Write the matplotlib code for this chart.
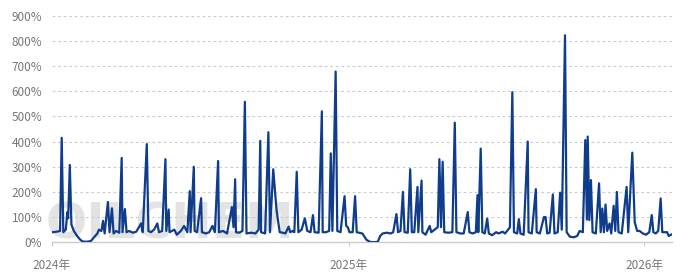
import numpy as np
import matplotlib
matplotlib.use("Agg")
import matplotlib.pyplot as plt

plt.rcParams['font.family'] = ['Noto Sans CJK SC', 'DejaVu Sans']

start_date = np.datetime64('2024-01-01')

# days after 2024-01-01 and the value (%)
day_offsets = [
    0, 6, 10, 12, 14, 17, 19, 20, 22, 24, 27, 31, 35, 38, 43, 48, 52, 56, 58, 61,
    63, 65, 69, 71, 74, 76, 79, 83, 86, 87, 90, 92, 95, 100, 104, 110, 112, 117, 119, 122,
    126, 130, 132, 136, 140, 141, 144, 145, 151, 154, 159, 163, 167, 170, 171, 175, 176, 179, 184, 185,
    190, 194, 198, 201, 205, 206, 211, 216, 222, 224, 226, 227, 231, 235, 238, 240, 246, 251, 255, 257,
    258, 263, 267, 269, 273, 277, 281, 285, 288, 292, 294, 297, 299, 302, 304, 308, 312, 315, 319, 322,
    324, 329, 333, 334, 338, 342, 344, 346, 350, 352, 356, 361, 363, 365, 367, 371, 374, 376, 379, 383,
    388, 392, 397, 402, 405, 408, 413, 418, 421, 425, 427, 430, 433, 435, 439, 442, 444, 447, 451, 452,
    456, 457, 461, 466, 468, 474, 476, 478, 480, 482, 484, 489, 494, 497, 499, 504, 508, 513, 515, 519,
    523, 525, 526, 529, 531, 534, 537, 539, 543, 548, 551, 556, 559, 564, 565, 568, 570, 574, 576, 578,
    582, 587, 588, 592, 597, 598, 602, 607, 609, 611, 614, 618, 620, 624, 627, 629, 633, 635, 639, 644,
    648, 651, 655, 658, 660, 661, 663, 665, 667, 671, 675, 677, 679, 681, 683, 685, 688, 690, 693, 695,
    697, 699, 703, 709, 711, 716, 719, 722, 725, 729, 733, 737, 740, 742, 745, 748, 751, 753, 759, 761,
    765,
]
ratio_pct = [
    40, 42, 45, 415, 40, 50, 120, 95, 307, 70, 45, 25, 10, 3, 2, 5, 20, 35, 50, 45,
    85, 35, 160, 40, 135, 35, 45, 38, 335, 40, 132, 40, 45, 38, 42, 75, 40, 390, 45, 40,
    50, 75, 40, 45, 330, 45, 130, 40, 50, 30, 45, 65, 40, 203, 40, 300, 45, 40, 175, 40,
    35, 40, 65, 40, 323, 40, 45, 35, 140, 60, 250, 40, 38, 45, 558, 35, 38, 35, 50, 403,
    40, 35, 437, 40, 290, 130, 40, 38, 35, 62, 40, 45, 40, 280, 40, 50, 95, 45, 40, 108,
    40, 38, 520, 40, 40, 45, 353, 45, 678, 45, 40, 183, 65, 60, 40, 40, 183, 40, 38, 35,
    10, 2, 0, 2, 25, 35, 38, 35, 40, 112, 40, 45, 200, 40, 38, 290, 40, 40, 220, 40,
    245, 40, 30, 65, 40, 55, 60, 330, 60, 320, 40, 38, 40, 475, 40, 35, 35, 120, 40, 35,
    40, 187, 40, 372, 40, 35, 94, 35, 28, 40, 35, 42, 35, 55, 60, 596, 40, 35, 92, 35,
    30, 400, 40, 35, 211, 40, 35, 100, 100, 35, 38, 190, 35, 40, 197, 50, 822, 40, 22, 20,
    25, 45, 40, 406, 90, 420, 88, 247, 40, 35, 234, 40, 134, 40, 150, 45, 75, 35, 145, 45,
    200, 40, 35, 220, 40, 356, 80, 45, 45, 35, 30, 40, 108, 40, 35, 45, 174, 40, 40, 25,
    32,
]

year_ticks = ['2024-01-01', '2025-01-01', '2026-01-01']
year_labels = ['2024年', '2025年', '2026年']

dates = start_date + np.array(day_offsets).astype('timedelta64[D]')

fig = plt.figure(figsize=(6.92, 2.75), dpi=100)
ax = fig.add_axes([0.0751, 0.119, 0.896, 0.824])

# faint watermark behind everything
ax.text(0.066, 0.095, 'OILCHEM', transform=fig.transFigure, fontsize=35, fontweight='bold',
        color='#e3e3e3', family='DejaVu Sans', ha='left', va='bottom', zorder=0.1)

ax.plot(dates, ratio_pct, color='#0f3d8c', linewidth=1.6, solid_joinstyle='round', zorder=3)

ax.set_ylim(0, 900)
ax.set_yticks(np.arange(0, 901, 100))
ax.set_yticklabels(['%d%%' % v for v in range(0, 901, 100)])
ax.set_xlim(start_date, start_date + np.timedelta64(765, 'D'))
ax.set_xticks([np.datetime64(d) for d in year_ticks])
ax.set_xticklabels(year_labels)

ax.grid(axis='y', color='#cccccc', linestyle=(0, (2.5, 2.5)), linewidth=0.8, zorder=1)
ax.grid(axis='x', visible=False)
ax.set_axisbelow(True)
for side in ['top', 'right', 'left']:
    ax.spines[side].set_visible(False)
ax.spines['bottom'].set_color('#cccccc')
ax.spines['bottom'].set_linewidth(1)

ax.tick_params(axis='y', length=0, pad=7, labelsize=8.5, labelcolor='#777777')
ax.tick_params(axis='x', length=3, color='#cccccc', pad=9, labelsize=8.5, labelcolor='#777777')

fig.savefig('out.png', dpi=100)
